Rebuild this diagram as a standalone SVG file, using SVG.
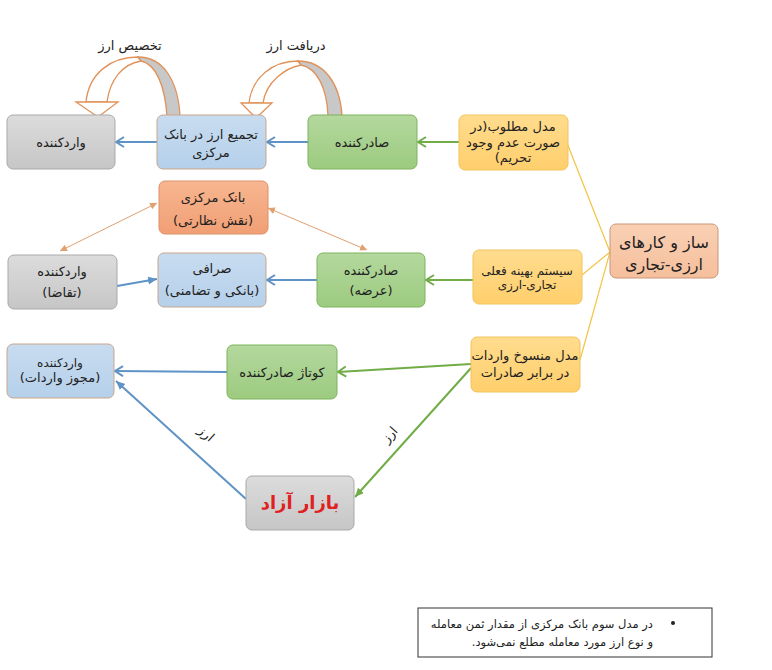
<svg xmlns="http://www.w3.org/2000/svg" width="772" height="670" viewBox="0 0 772 670">
<defs>
<style>
text{font-family:"DejaVu Sans","Noto Sans",sans-serif;font-size:13px;fill:#222;direction:rtl;text-anchor:middle}
.gray{fill:url(#gGray);stroke:#a9a9a9;stroke-width:1}
.blue{fill:url(#gBlue);stroke:#c9a58c;stroke-width:1}
.green{fill:url(#gGreen);stroke:#7fb35c;stroke-width:1}
.yellow{fill:url(#gYellow);stroke:#f2c35c;stroke-width:1}
.orange{fill:url(#gOrange);stroke:#dd9068;stroke-width:1}
.peach{fill:url(#gPeach);stroke:#c8967a;stroke-width:1}
.cb{stroke:#5f93c5;stroke-width:2;fill:none}
.cg{stroke:#70ad47;stroke-width:2;fill:none}
.co{stroke:#e0a070;stroke-width:1;fill:none}
.cy{stroke:#f2c443;stroke-width:1.2;fill:none}
.arch{stroke:#e0925a;stroke-width:1.3}
</style>
<linearGradient id="gGray" x1="0" y1="0" x2="0" y2="1"><stop offset="0" stop-color="#dcdcdc"/><stop offset="1" stop-color="#c6c6c6"/></linearGradient>
<linearGradient id="gBlue" x1="0" y1="0" x2="0" y2="1"><stop offset="0" stop-color="#c8dcf0"/><stop offset="1" stop-color="#b5d0ea"/></linearGradient>
<linearGradient id="gGreen" x1="0" y1="0" x2="0" y2="1"><stop offset="0" stop-color="#b4d89e"/><stop offset="1" stop-color="#9ccb7f"/></linearGradient>
<linearGradient id="gYellow" x1="0" y1="0" x2="0" y2="1"><stop offset="0" stop-color="#ffdc8e"/><stop offset="1" stop-color="#ffcf6c"/></linearGradient>
<linearGradient id="gOrange" x1="0" y1="0" x2="0" y2="1"><stop offset="0" stop-color="#f7b690"/><stop offset="1" stop-color="#f19f74"/></linearGradient>
<linearGradient id="gPeach" x1="0" y1="0" x2="0" y2="1"><stop offset="0" stop-color="#f9d0b4"/><stop offset="1" stop-color="#f5bf9c"/></linearGradient>
<marker id="chB" markerUnits="userSpaceOnUse" markerWidth="14" markerHeight="14" refX="10" refY="6" orient="auto"><path d="M2,1 L10,6 L2,11" fill="none" stroke="#5f93c5" stroke-width="2"/></marker>
<marker id="chG" markerUnits="userSpaceOnUse" markerWidth="14" markerHeight="14" refX="10" refY="6" orient="auto"><path d="M2,1 L10,6 L2,11" fill="none" stroke="#70ad47" stroke-width="2"/></marker>
<marker id="trB" markerUnits="userSpaceOnUse" markerWidth="12" markerHeight="12" refX="9" refY="4" orient="auto"><path d="M0,0 L9,4 L0,8 Z" fill="#5f93c5"/></marker>
<marker id="trG" markerUnits="userSpaceOnUse" markerWidth="12" markerHeight="12" refX="9" refY="4" orient="auto"><path d="M0,0 L9,4 L0,8 Z" fill="#70ad47"/></marker>
<marker id="trO" markerUnits="userSpaceOnUse" markerWidth="10" markerHeight="10" refX="7" refY="3.5" orient="auto-start-reverse"><path d="M0,0 L7,3.5 L0,7 Z" fill="#e0a070"/></marker>
</defs>
<rect width="772" height="670" fill="#fff"/>

<g id="connectors">
<line class="cb" x1="157" y1="142" x2="116" y2="142" marker-end="url(#chB)"/>
<line class="cb" x1="308" y1="142" x2="267" y2="142" marker-end="url(#chB)"/>
<line class="cg" x1="459" y1="142" x2="418" y2="142" marker-end="url(#chG)"/>
<line class="cb" x1="117" y1="286" x2="157" y2="279" marker-end="url(#trB)"/>
<line class="cb" x1="317" y1="280" x2="267" y2="280" marker-end="url(#chB)"/>
<line class="cg" x1="473" y1="280" x2="426" y2="280" marker-end="url(#chG)"/>
<line class="co" x1="60" y1="251" x2="157" y2="203" marker-start="url(#trO)" marker-end="url(#trO)"/>
<line class="co" x1="268" y1="208" x2="367" y2="250" marker-start="url(#trO)" marker-end="url(#trO)"/>
<line class="cb" x1="227" y1="372" x2="115" y2="371" marker-end="url(#chB)"/>
<line class="cg" x1="471" y1="364" x2="338" y2="372" marker-end="url(#chG)"/>
<line class="cg" x1="471" y1="368" x2="355" y2="497" marker-end="url(#trG)"/>
<line class="cb" x1="246" y1="499" x2="116" y2="381" marker-end="url(#trB)"/>
<line class="cy" x1="610" y1="252" x2="567" y2="143"/>
<line class="cy" x1="610" y1="252" x2="582" y2="275"/>
<line class="cy" x1="610" y1="252" x2="580" y2="360"/>
<text x="206" y="438" transform="rotate(42 206 434)">ارز</text>
<text x="390" y="439" transform="rotate(-48 390 435)">ارز</text>
</g>

<g id="arch-takhsis">
<path class="arch" d="M86,102 C89,73 111,57 138,57 L141,61 C122,64 110,80 107,102 Z" fill="#fff"/>
<path class="arch" d="M138,57 C163,57 178,80 180,116 L167,116 C165,86 156,64 141,61 Z" fill="#c8c8c8"/>
<path class="arch" d="M76,102 L118,102 L98,117 Z" fill="#fff"/>
<text x="130" y="50">تخصیص ارز</text>
</g>
<g id="arch-daryaft">
<path class="arch" d="M249,103 C252,77 273,61 298,61 L301,65 C285,68 266,82 263,103 Z" fill="#fff"/>
<path class="arch" d="M298,61 C323,61 340,82 342,116 L328,116 C327,88 317,68 301,65 Z" fill="#c8c8c8"/>
<path class="arch" d="M241,103 L272,103 L256,118 Z" fill="#fff"/>
<text x="296" y="50">دریافت ارز</text>
</g>

<g id="n-importer1"><rect class="gray" x="7" y="115" width="108" height="54" rx="6"/><text x="61" y="147">واردکننده</text></g>
<g id="n-tajmi"><rect class="blue" x="157" y="115" width="109" height="54" rx="6"/><text x="211" y="139">تجمیع ارز در بانک</text><text x="211" y="157">مرکزی</text></g>
<g id="n-exporter1"><rect class="green" x="308" y="115" width="109" height="54" rx="6"/><text x="362" y="147">صادرکننده</text></g>
<g id="n-model1"><rect class="yellow" x="459" y="115" width="109" height="55" rx="6"/><text x="513" y="131">مدل مطلوب(در</text><text x="513" y="147">صورت عدم وجود</text><text x="513" y="162">تحریم)</text></g>

<g id="n-bank"><rect class="orange" x="159" y="181" width="109" height="53" rx="6"/><text x="213" y="202">بانک مرکزی</text><text x="213" y="225">(نقش نظارتی)</text></g>
<g id="n-importer2"><rect class="gray" x="8" y="255" width="109" height="54" rx="6"/><text x="62" y="276">واردکننده</text><text x="62" y="297">(تقاضا)</text></g>
<g id="n-sarafi"><rect class="blue" x="158" y="253" width="108" height="54" rx="6"/><text x="212" y="273">صرافی</text><text x="212" y="295">(بانکی و تضامنی)</text></g>
<g id="n-exporter2"><rect class="green" x="317" y="253" width="108" height="54" rx="6"/><text x="371" y="275">صادرکننده</text><text x="371" y="295">(عرضه)</text></g>
<g id="n-model2"><rect class="yellow" x="473" y="250" width="109" height="54" rx="6"/><text x="527" y="275" style="font-size:12px">سیستم بهینه فعلی</text><text x="527" y="289" style="font-size:12px">تجاری-ارزی</text></g>
<g id="n-saz"><rect class="peach" x="610" y="224" width="108" height="54" rx="6"/><text x="664" y="248" style="font-size:16px">ساز و کارهای</text><text x="664" y="270" style="font-size:16px">ارزی-تجاری</text></g>

<g id="n-importer3"><rect class="blue" x="7" y="344" width="107" height="54" rx="6"/><text x="60" y="367" style="font-size:12px">واردکننده</text><text x="60" y="382">(مجوز واردات)</text></g>
<g id="n-kotaj"><rect class="green" x="227" y="345" width="110" height="54" rx="6"/><text x="282" y="377">کوتاژ صادرکننده</text></g>
<g id="n-model3"><rect class="yellow" x="471" y="337" width="109" height="55" rx="6"/><text x="525" y="360">مدل منسوخ واردات</text><text x="525" y="377">در برابر صادرات</text></g>
<g id="n-bazar"><rect class="gray" x="246" y="476" width="108" height="54" rx="6"/><text x="300" y="509" style="font-size:18px;font-weight:bold;fill:#e02020">بازار آزاد</text></g>

<g id="note">
<rect x="418" y="608" width="294" height="49" fill="#fff" stroke="#333" stroke-width="1"/>
<circle cx="673" cy="623" r="2" fill="#222"/>
<text x="653" y="628" style="text-anchor:start;font-size:11.5px">در مدل سوم بانک مرکزی از مقدار ثمن معامله</text>
<text x="653" y="646" style="text-anchor:start;font-size:11.5px">و نوع ارز مورد معامله مطلع نمی‌شود.</text>
</g>
</svg>
